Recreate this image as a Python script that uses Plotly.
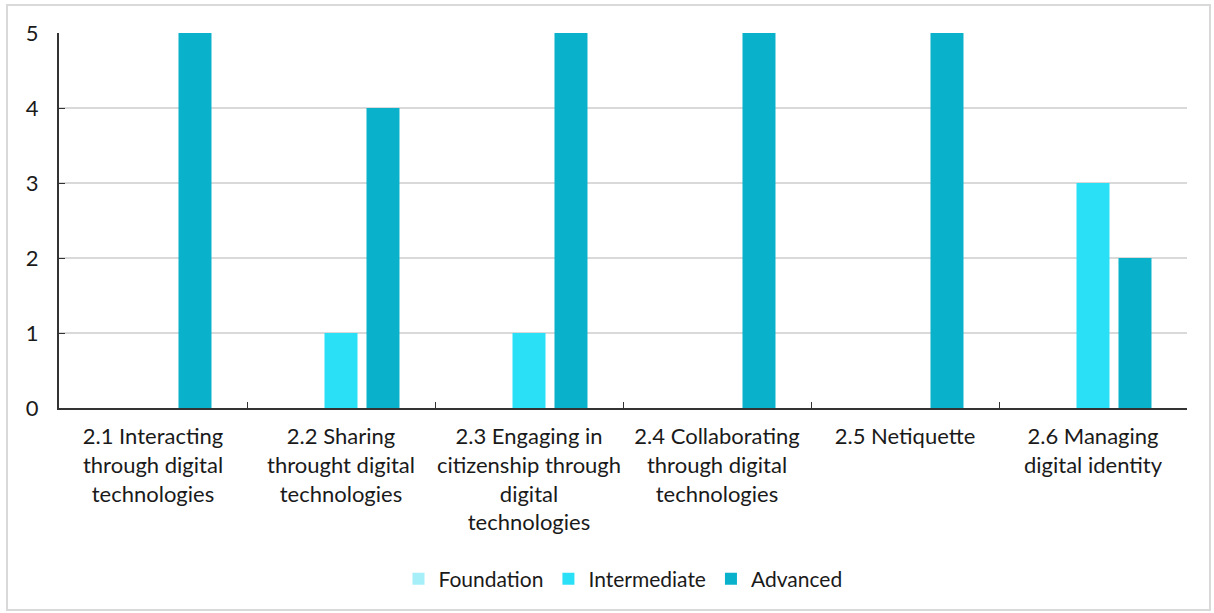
import plotly.graph_objects as go

categories = [
    "2.1 Interacting<br>through digital<br>technologies",
    "2.2 Sharing<br>throught digital<br>technologies",
    "2.3 Engaging in<br>citizenship through<br>digital<br>technologies",
    "2.4 Collaborating<br>through digital<br>technologies",
    "2.5 Netiquette",
    "2.6 Managing<br>digital identity",
]
foundation = [0, 0, 0, 0, 0, 0]
intermediate = [0, 1, 1, 0, 0, 3]
advanced = [5, 4, 5, 5, 5, 2]
y_ticks = [0, 1, 2, 3, 4, 5]

W, H = 1214, 613
L, R, T, B = 59, 27, 33, 205
pw, ph = W - L - R, H - T - B

font = "Lato, 'Open Sans', sans-serif"
fig = go.Figure()
for name, vals, col in [("Foundation", foundation, "#A6EEF8"),
                        ("Intermediate", intermediate, "#29E0F7"),
                        ("Advanced", advanced, "#0AB1CA")]:
    fig.add_trace(go.Bar(name=name, x=categories, y=vals, marker_color=col,
                         marker_line_width=0))

fig.update_layout(
    width=W, height=H,
    margin=dict(l=L, r=R, t=T, b=B, autoexpand=False),
    paper_bgcolor="white", plot_bgcolor="white",
    barmode="group", bargap=0.33, bargroupgap=0.214,
    font=dict(family=font, size=22, color="#1a1a1a"),
    showlegend=True,
    legend=dict(orientation="h", x=0.5, xanchor="center", y=(579 - 408) / -ph,
                yanchor="middle", font=dict(size=21), itemwidth=30,
                traceorder="normal"),
    xaxis=dict(showline=True, linecolor="#333333", linewidth=2, tickangle=0,
               ticks="inside", tickson="boundaries", ticklen=6, tickcolor="#333333",
               tickfont=dict(size=22), showgrid=False, ticklabelstandoff=8),
    yaxis=dict(range=[0, 5], tickvals=y_ticks, showline=True, linecolor="#333333",
               linewidth=2, ticks="inside", ticklen=6, tickcolor="#333333",
               showgrid=True, gridcolor="#D9D9D9", gridwidth=2,
               ticklabelstandoff=14, tickfont=dict(size=22), zeroline=False),
    shapes=[dict(type="rect", xref="paper", yref="paper",
                 x0=(7 - L) / pw, x1=(1210 - L) / pw,
                 y0=(H - B - 610) / ph, y1=(H - B - 5) / ph,
                 line=dict(color="#D9D9D9", width=2), layer="below")],
)

fig.write_html("out.html", config={"displayModeBar": False},
               post_script="document.body.style.margin='0';document.body.style.padding='0';")
